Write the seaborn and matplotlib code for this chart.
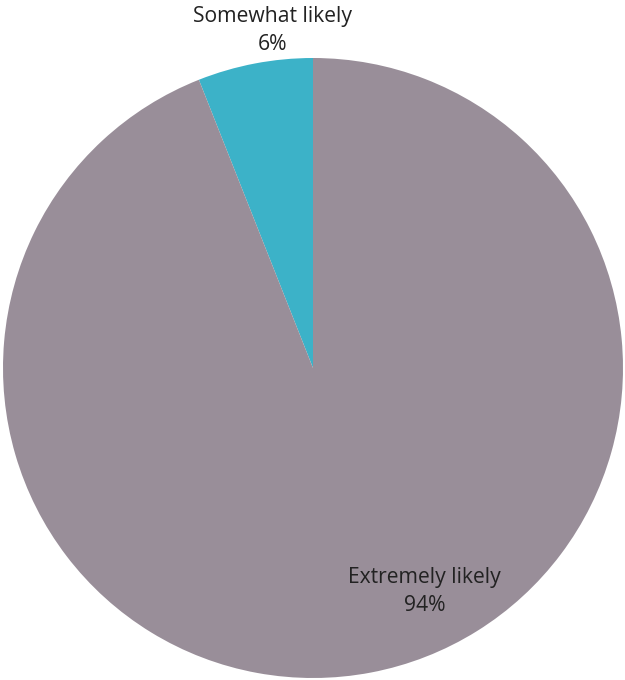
import matplotlib
matplotlib.use("Agg")
import matplotlib.pyplot as plt
import seaborn as sns

# Survey answer shares (percent)
categories = ["Somewhat likely", "Extremely likely"]
shares = [6, 94]
slice_colors = ["#3cb2c8", "#998e99"]

sns.set_theme(style="white")
plt.rcParams["font.family"] = ["Open Sans", "DejaVu Sans"]

fig = plt.figure(figsize=(6.25, 6.8), dpi=100)
ax = fig.add_axes([3 / 625, 2 / 680, 620 / 625, 620 / 680])

wedges, _ = ax.pie(
    shares, colors=slice_colors, startangle=90, counterclock=True,
    radius=1.0, wedgeprops={"linewidth": 0},
)
ax.set_xlim(-1, 1)
ax.set_ylim(-1, 1)
ax.set_aspect("equal")
ax.axis("off")

# Data labels, placed like the original chart
label_pos = [(-0.13, 1.088), (0.36, -0.72)]
for name, val, (x, y) in zip(categories, shares, label_pos):
    ax.text(x, y, f"{name}\n{val}%", ha="center", va="center",
            fontsize=15.2, color="#222222", linespacing=1.45, clip_on=False)

fig.savefig("out.png", dpi=100)
